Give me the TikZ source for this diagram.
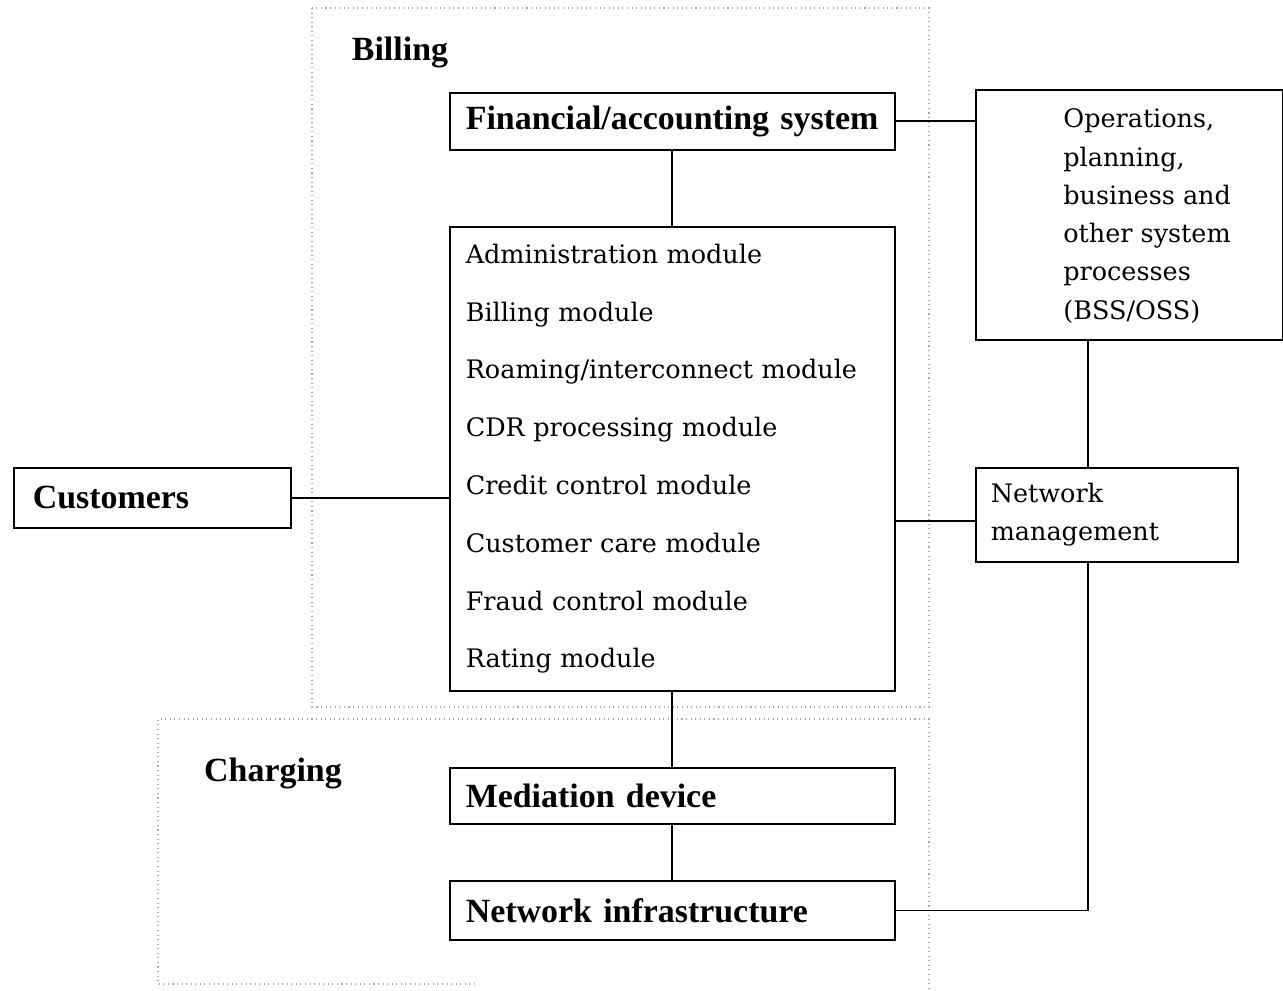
\documentclass[tikz,border=0pt]{standalone}
\usepackage{fontspec}
\setmainfont{Liberation Serif}
\newfontfamily\regfont{DejaVu Serif}
\begin{document}
\begin{tikzpicture}[x=0.02cm,y=-0.02cm,
  box/.style={draw=black, line width=0.9pt, rectangle, anchor=north west, inner ysep=0pt},
  boldtxt/.style={font=\fontsize{19.3}{23}\selectfont\bfseries},
  regtxt/.style={font=\regfont\fontsize{14.5}{22}\selectfont},
  region/.style={draw=gray!70, line width=0.6pt, dotted},
  conn/.style={draw=black, line width=0.9pt}]
\useasboundingbox (0,0) rectangle (1283,990);
% regions
\draw[region] (312,8) rectangle (929,707);
\draw[region] (475,984) -- (158,984) -- (158,719) -- (929,719) -- (929,990);
\node[boldtxt, inner sep=0pt] (billing) at (400,52) {Billing};
\node[boldtxt, inner sep=0pt] (charging) at (273,773) {Charging};
% boxes
\node[box, boldtxt, minimum width=8.9cm, minimum height=1.14cm, text width=8.26cm, inner xsep=0.32cm, align=left] (fin) at (449,92) {Financial/accounting system};
\node[box, regtxt, font=\regfont\fontsize{14.5}{32.9}\selectfont, minimum width=8.9cm, minimum height=9.28cm, text width=8.26cm, inner xsep=0.32cm, align=left] (mod) at (449,226) {Administration module\\Billing module\\Roaming/interconnect module\\CDR processing module\\Credit control module\\Customer care module\\Fraud control module\\Rating module};
\node[box, boldtxt, minimum width=5.54cm, minimum height=1.2cm, text width=4.78cm, inner xsep=0.38cm, align=left] (cust) at (13,467) {Customers};
\node[box, minimum width=6.14cm, minimum height=5.0cm] (ops) at (975,89) {};
\node[regtxt, font=\regfont\fontsize{14.5}{21.8}\selectfont, anchor=west, inner sep=0pt, align=left] (opstext) at (1063,216) {Operations,\\planning,\\business and\\other system\\processes\\(BSS/OSS)};
\node[box, regtxt, minimum width=5.24cm, minimum height=1.88cm, text width=4.64cm, inner xsep=0.3cm, align=left] (nm) at (975,467) {Network\\management};
\node[box, boldtxt, minimum width=8.9cm, minimum height=1.12cm, text width=8.26cm, inner xsep=0.32cm, align=left] (med) at (449,767) {Mediation device};
\node[box, boldtxt, minimum width=8.9cm, minimum height=1.18cm, text width=8.26cm, inner xsep=0.32cm, align=left] (ni) at (449,880) {Network infrastructure};
\coordinate (corner) at (1088,912);
% connectors
\draw[conn] (fin.east) -- (fin.east -| ops.west);
\draw[conn] (fin.south) -- (mod.north);
\draw[conn] (cust.east) -- (cust.east -| mod.west);
\draw[conn] (mod.east |- 0,521) -- (nm.west |- 0,521);
\draw[conn] (ops.south -| corner) -- (nm.north -| corner);
\draw[conn] (mod.south) -- (med.north);
\draw[conn] (med.south) -- (ni.north);
\draw[conn] (ni.east) -- (ni.east -| corner) -- (corner |- nm.south);
\end{tikzpicture}
\end{document}
